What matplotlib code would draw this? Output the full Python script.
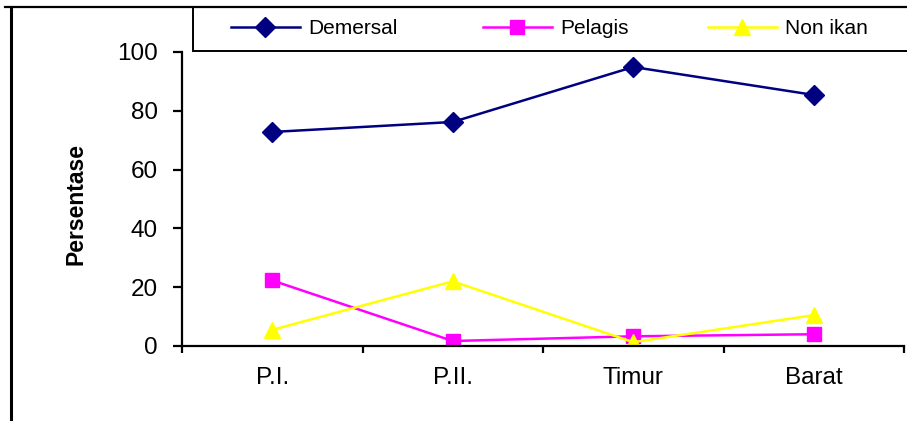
import matplotlib.pyplot as plt
from matplotlib.lines import Line2D
from matplotlib.patches import Rectangle

plt.rcParams['font.family'] = ['Liberation Sans', 'DejaVu Sans']

wilayah = ['P.I.', 'P.II.', 'Timur', 'Barat']
demersal = [72.8, 76.2, 94.9, 85.4]
pelagis = [22.3, 1.7, 3.3, 4.0]
non_ikan = [5.5, 22.0, 1.3, 10.5]

fig = plt.figure(figsize=(9.07, 4.21), dpi=100)
ax = fig.add_axes([182/907, 75/421, 722/907, 294/421])

x = list(range(len(wilayah)))
l1, = ax.plot(x, demersal, color='#000080', lw=1.8, marker='D', ms=10, label='Demersal')
l2, = ax.plot(x, pelagis, color='#FF00FF', lw=1.8, marker='s', ms=10, label='Pelagis')
l3, = ax.plot(x, non_ikan, color='#FFFF00', lw=1.8, marker='^', ms=12, label='Non ikan')

ax.set_xlim(-0.5, len(wilayah) - 0.5)
ax.set_ylim(0, 100)
ax.set_yticks(range(0, 101, 20))
ax.set_xticks([i - 0.5 for i in range(len(wilayah) + 1)])
ax.set_xticklabels([])
ax.set_xticks(x, minor=True)
ax.set_xticklabels(wilayah, minor=True)
ax.tick_params(axis='x', which='minor', length=0, pad=15, labelsize=17.5)
ax.tick_params(axis='x', which='major', length=5, width=1.6)
ax.tick_params(axis='y', length=6.5, width=1.6, pad=11, labelsize=17.5)
for s in ['top', 'right']:
    ax.spines[s].set_visible(False)
for s in ['left', 'bottom']:
    ax.spines[s].set_linewidth(1.6)
ax.set_ylabel('Persentase', fontsize=16.5, fontweight='bold', va='center')
ax.yaxis.set_label_coords(-0.147, 0.483)

# outer frame and legend box
fig.add_artist(Line2D([5/907, 1], [1 - 7/421] * 2, color='black', lw=1.6))
fig.add_artist(Line2D([11/907] * 2, [0, 1 - 7/421], color='black', lw=2.2))
fig.add_artist(Rectangle((193/907, 1 - 51/421), 1, 44/421, transform=fig.transFigure,
                         facecolor='white', edgecolor='black', lw=1.4))

for line, xs in [(l1, 231), (l2, 483), (l3, 708)]:
    fig.legend(handles=[line], loc='center left', bbox_to_anchor=(xs/907, 1 - 29/421),
               frameon=False, borderpad=0, borderaxespad=0, handlelength=3.3,
               handletextpad=0.4, fontsize=15)

fig.savefig('out.png', dpi=100)
